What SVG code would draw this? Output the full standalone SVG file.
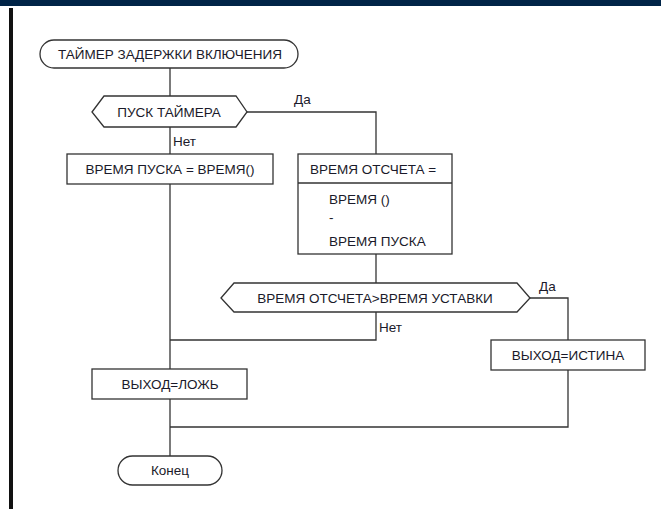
<svg xmlns="http://www.w3.org/2000/svg" width="661" height="509" viewBox="0 0 661 509">
  <style>
    .shape { fill: #ffffff; stroke: #333333; stroke-width: 1.3; }
    .wire { fill: none; stroke: #333333; stroke-width: 1.3; }
    .label { font-family: "Liberation Sans", Arial, sans-serif; font-size: 13.5px; fill: #1a1a2a; }
    .mid { text-anchor: middle; }
  </style>
  <rect x="0" y="0" width="661" height="509" fill="#ffffff"/>
  <!-- window frame -->
  <rect x="0" y="0" width="661" height="6" fill="#002447"/>
  <rect x="9" y="8" width="4" height="501" fill="#111111"/>

  <g id="connectors">
    <path class="wire" d="M170 68 V96"/>
    <path class="wire" d="M247 112 H376 V154"/>
    <path class="wire" d="M170 127 V154"/>
    <path class="wire" d="M170 184 V369"/>
    <path class="wire" d="M376 254 V283"/>
    <path class="wire" d="M376 312 V340 H170"/>
    <path class="wire" d="M530 298 H568 V340"/>
    <path class="wire" d="M568 370 V427 H170"/>
    <path class="wire" d="M170 399 V456"/>
    <text class="label" x="294" y="104">Да</text>
    <text class="label" x="173" y="146">Нет</text>
    <text class="label" x="379" y="332">Нет</text>
    <text class="label" x="539" y="291">Да</text>
  </g>

  <g id="start">
    <rect class="shape" x="40" y="40" width="258" height="28" rx="14" ry="14"/>
    <text class="label mid" x="170" y="59">ТАЙМЕР ЗАДЕРЖКИ ВКЛЮЧЕНИЯ</text>
  </g>

  <g id="check-start">
    <polygon class="shape" points="92,112 104,96 236,96 247,112 236,127 104,127"/>
    <text class="label mid" x="169" y="117">ПУСК ТАЙМЕРА</text>
  </g>

  <g id="set-start-time">
    <rect class="shape" x="67" y="154" width="206" height="30"/>
    <text class="label mid" x="170" y="174">ВРЕМЯ ПУСКА = ВРЕМЯ()</text>
  </g>

  <g id="elapsed">
    <rect class="shape" x="298" y="154" width="154" height="100"/>
    <line class="wire" x1="298" y1="183" x2="452" y2="183"/>
    <text class="label" x="310" y="174">ВРЕМЯ ОТСЧЕТА =</text>
    <text class="label" x="329" y="204">ВРЕМЯ ()</text>
    <text class="label" x="329" y="222">-</text>
    <text class="label" x="329" y="246">ВРЕМЯ ПУСКА</text>
  </g>

  <g id="compare">
    <polygon class="shape" points="221,298 234,283 517,283 530,298 517,312 234,312"/>
    <text class="label mid" x="375" y="303">ВРЕМЯ ОТСЧЕТА&gt;ВРЕМЯ УСТАВКИ</text>
  </g>

  <g id="out-true">
    <rect class="shape" x="491" y="340" width="154" height="30"/>
    <text class="label mid" x="568" y="360">ВЫХОД=ИСТИНА</text>
  </g>

  <g id="out-false">
    <rect class="shape" x="92" y="369" width="155" height="30"/>
    <text class="label mid" x="170" y="389">ВЫХОД=ЛОЖЬ</text>
  </g>

  <g id="end">
    <rect class="shape" x="118" y="456" width="104" height="29" rx="14.5" ry="14.5"/>
    <text class="label mid" x="170" y="475">Конец</text>
  </g>
</svg>
